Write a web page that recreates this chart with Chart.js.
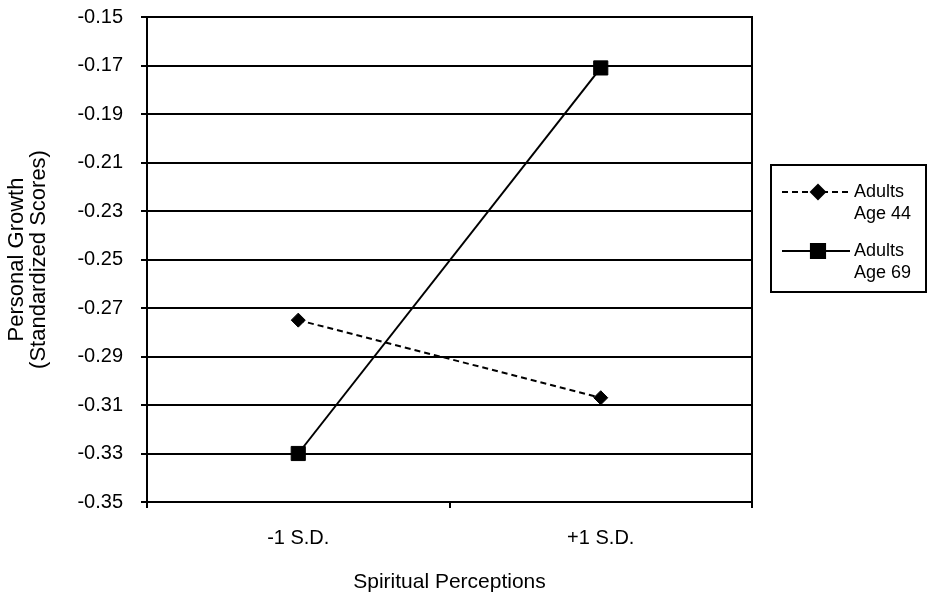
<!DOCTYPE html>
<html>
<head>
<meta charset="utf-8">
<script src="https://cdn.jsdelivr.net/npm/chart.js@4/dist/chart.umd.min.js"></script>
<style>
  html, body { margin: 0; padding: 0; background: #fff; }
  #wrap { width: 930px; height: 599px; }
</style>
</head>
<body>
<div id="wrap"><canvas id="growthChart" width="930" height="599"></canvas></div>
<script>
var categories = ['-1 S.D.', '+1 S.D.'];
var age44 = [-0.275, -0.307];
var age69 = [-0.330, -0.171];
var seriesNames = [['Adults', 'Age 44'], ['Adults', 'Age 69']];
var yTicks = [-0.35, -0.33, -0.31, -0.29, -0.27, -0.25, -0.23, -0.21, -0.19, -0.17, -0.15];

var font = "'Liberation Sans', Arial, sans-serif";

// legend drawn on the canvas: line sample with marker, two-line label, boxed
var boxLegend = {
    id: 'boxLegend',
    afterDraw: function (chart) {
        var ctx = chart.ctx;
        var x0 = 771, y0 = 165, w = 155, h = 127;
        ctx.save();
        ctx.strokeStyle = '#000';
        ctx.lineWidth = 2;
        ctx.strokeRect(x0, y0, w, h);
        chart.data.datasets.forEach(function (ds, i) {
            var ly = y0 + 27 + i * 59;
            ctx.beginPath();
            ctx.setLineDash(ds.borderDash || []);
            ctx.lineWidth = 2;
            ctx.moveTo(x0 + 11, ly);
            ctx.lineTo(x0 + 79, ly);
            ctx.stroke();
            ctx.setLineDash([]);
            Chart.helpers.drawPoint(ctx, {
                pointStyle: ds.pointStyle,
                radius: ds.pointRadius,
                borderWidth: 1
            }, x0 + 47, ly);
            ctx.fillStyle = '#000';
            ctx.font = '18px ' + font;
            ctx.textBaseline = 'middle';
            ctx.textAlign = 'left';
            seriesNames[i].forEach(function (t, k) {
                ctx.fillText(t, x0 + 83, ly + k * 22);
            });
        });
        ctx.restore();
    }
};

new Chart(document.getElementById('growthChart').getContext('2d'), {
    type: 'line',
    data: {
        labels: categories,
        datasets: [{
            label: 'Adults Age 44',
            data: age44,
            borderColor: '#000',
            backgroundColor: '#000',
            borderWidth: 2,
            borderDash: [6, 4],
            pointStyle: 'rectRot',
            pointRadius: 7,
            pointBorderWidth: 1,
            fill: false
        }, {
            label: 'Adults Age 69',
            data: age69,
            borderColor: '#000',
            backgroundColor: '#000',
            borderWidth: 2,
            pointStyle: 'rect',
            pointRadius: 10,
            pointBorderWidth: 1,
            fill: false
        }]
    },
    options: {
        responsive: false,
        animation: false,
        layout: { padding: { left: 0, top: 17, right: 178, bottom: 0 } },
        plugins: {
            legend: { display: false },
            tooltip: { enabled: false }
        },
        scales: {
            x: {
                offset: true,
                grid: {
                    offset: true,
                    drawOnChartArea: false,
                    color: '#000',
                    lineWidth: 2,
                    tickLength: 6
                },
                border: { color: '#000', width: 2 },
                ticks: { color: '#000', font: { family: font, size: 20 }, padding: 18 },
                title: {
                    display: true,
                    text: 'Spiritual Perceptions',
                    color: '#000',
                    font: { family: font, size: 21 },
                    padding: { top: 20, bottom: 4 }
                },
                afterFit: function (scale) { scale.height = 97; }
            },
            y: {
                min: -0.35,
                max: -0.15,
                afterBuildTicks: function (scale) {
                    scale.ticks = yTicks.map(function (v) { return { value: v }; });
                },
                grid: { color: '#000', lineWidth: 2, tickLength: 6 },
                border: { color: '#000', width: 2 },
                ticks: {
                    color: '#000',
                    font: { family: font, size: 20 },
                    padding: 18,
                    callback: function (value) { return value.toFixed(2); }
                },
                title: {
                    display: true,
                    text: ['Personal Growth', '(Standardized Scores)'],
                    color: '#000',
                    font: { family: font, size: 22, lineHeight: 1.0 },
                    padding: { top: 6, bottom: 4 }
                },
                afterFit: function (scale) {
                    scale.width = 147;
                    scale.paddingTop = 0;
                    scale.paddingBottom = 0;
                }
            },
            y2: {
                position: 'right',
                min: -0.35,
                max: -0.15,
                grid: { display: false, drawTicks: false },
                border: { color: '#000', width: 2 },
                ticks: { display: false },
                afterFit: function (scale) { scale.width = 0; }
            }
        }
    },
    plugins: [boxLegend]
});
</script>
</body>
</html>
